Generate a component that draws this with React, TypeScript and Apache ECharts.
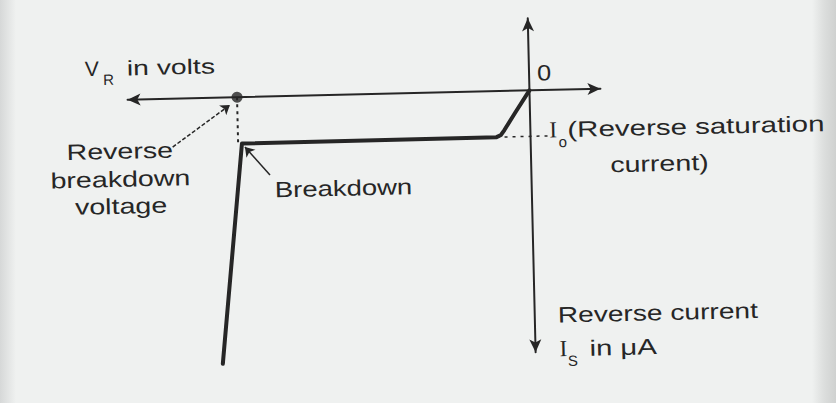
import React, { useEffect, useRef } from "react";
import * as echarts from "echarts";

// Reverse characteristic of a p-n junction diode (illustrative units)
const curveVoltage = [0, -2.56, -4.44, -5.04, -5.81, -49.35, -53.5]; // V_R (volts)
const curveCurrent = [0, -0.97, -1.7, -1.91, -2.0, -2.02, -11.57]; // I_S (µA)
const breakdownVoltage = -50;
const saturationCurrent = -2.0;
const saturationGuideEnd = 3.0;
const xLimits = [-68.72, 12.14];
const yLimits = [-11.39, 3.13];
const reverseLabelArrow = [
  [-61.2, -2.1],
  [-51.25, -0.33],
];
const breakdownLabelArrow = [
  [-44.68, -3.41],
  [-48.85, -2.17],
];

const INK = "#262626";
const PAPER = "#eff1f0";
const FONT = '"Liberation Sans", Arial, sans-serif';
const SERIF = '"Liberation Serif", "Times New Roman", serif';

function txt(
  text: string,
  x: number,
  y: number,
  size: number,
  opts: { align?: string; sx?: number; family?: string } = {}
) {
  const align = opts.align || "left";
  return {
    type: "text",
    x,
    y,
    scaleX: opts.sx || 1,
    silent: true,
    style: {
      text,
      font: `${size}px ${opts.family || FONT}`,
      fill: INK,
      align,
      textAlign: align,
      verticalAlign: "middle",
      textVerticalAlign: "middle",
    },
  };
}

export default function App() {
  const ref = useRef<HTMLDivElement>(null);

  useEffect(() => {
    if (!ref.current) return;
    const chart = echarts.init(ref.current, undefined, { renderer: "svg" });
    const curve = curveVoltage.map((v, i) => [v, curveCurrent[i]]);
    const kneeVoltage = curveVoltage[4];

    const axisCommon = {
      type: "value",
      axisLine: {
        show: true,
        onZero: true,
        symbol: ["arrow", "arrow"],
        symbolSize: [9, 13],
        lineStyle: { color: INK, width: 2 },
      },
      axisTick: { show: false },
      axisLabel: { show: false },
      splitLine: { show: false },
    };

    chart.setOption({
      animation: false,
      backgroundColor: "transparent",
      grid: { left: 130, right: 233, top: 21, bottom: 48 },
      xAxis: { ...axisCommon, min: xLimits[0], max: xLimits[1] },
      yAxis: { ...axisCommon, min: yLimits[0], max: yLimits[1] },
      series: [
        {
          type: "line",
          data: curve,
          showSymbol: false,
          clip: false,
          lineStyle: { color: INK, width: 4, join: "round", cap: "round" },
          z: 3,
        },
        {
          type: "line",
          data: [
            [breakdownVoltage, 0],
            [breakdownVoltage, saturationCurrent],
          ],
          showSymbol: false,
          lineStyle: { color: INK, width: 2, type: [3, 4] },
        },
        {
          type: "line",
          data: [
            [kneeVoltage, saturationCurrent],
            [saturationGuideEnd, saturationCurrent],
          ],
          showSymbol: false,
          lineStyle: { color: INK, width: 1.5, type: [3, 5] },
        },
        {
          type: "scatter",
          data: [[breakdownVoltage, 0]],
          symbolSize: 11,
          itemStyle: { color: INK },
          z: 4,
        },
        {
          type: "lines",
          coordinateSystem: "cartesian2d",
          xAxisIndex: 0,
          yAxisIndex: 0,
          symbol: ["none", "arrow"],
          symbolSize: 9,
          lineStyle: { color: INK, width: 1.5, opacity: 1 },
          data: [
            { coords: reverseLabelArrow, lineStyle: { type: [4, 2] } },
            { coords: breakdownLabelArrow, lineStyle: { type: "solid" } },
          ],
        },
      ],
      graphic: [
        txt("V", 88, 61, 21),
        txt("R", 106, 72, 15),
        txt("in volts", 130, 61, 21, { sx: 1.35 }),
        txt("0", 547, 76, 22, { align: "center", sx: 1.15 }),
        txt("Reverse", 121, 144, 22, { align: "center", sx: 1.3 }),
        txt("breakdown", 121, 172, 22, { align: "center", sx: 1.3 }),
        txt("voltage", 121, 199, 22, { align: "center", sx: 1.3 }),
        txt("Breakdown", 275, 186, 22, { sx: 1.25 }),
        txt("I", 551, 133, 23, { family: SERIF }),
        txt("o", 560, 145, 15),
        txt("(Reverse saturation", 569, 133, 22, { sx: 1.34 }),
        txt("current)", 611, 169, 22, { sx: 1.3 }),
        txt("Reverse current", 555, 318, 22, { sx: 1.28 }),
        txt("I", 556, 352, 23, { family: SERIF }),
        txt("S", 564, 364, 15),
        txt("in \u03bcA", 586, 352, 22, { sx: 1.33 }),
      ],
    });
    return () => chart.dispose();
  }, []);

  return (
    <div
      style={{
        position: "fixed",
        left: 0,
        top: 0,
        width: 836,
        height: 403,
        overflow: "hidden",
        background: `linear-gradient(to right, #d6d8d8 0px, ${PAPER} 16px, ${PAPER} 812px, #dcdedd 824px, #cfd1d0 836px)`,
      }}
    >
      <div
        ref={ref}
        style={{
          position: "absolute",
          left: 0,
          top: 0,
          width: 836,
          height: 403,
          transform: "rotate(-1.35deg)",
          transformOrigin: "418px 200px",
        }}
      />
    </div>
  );
}
